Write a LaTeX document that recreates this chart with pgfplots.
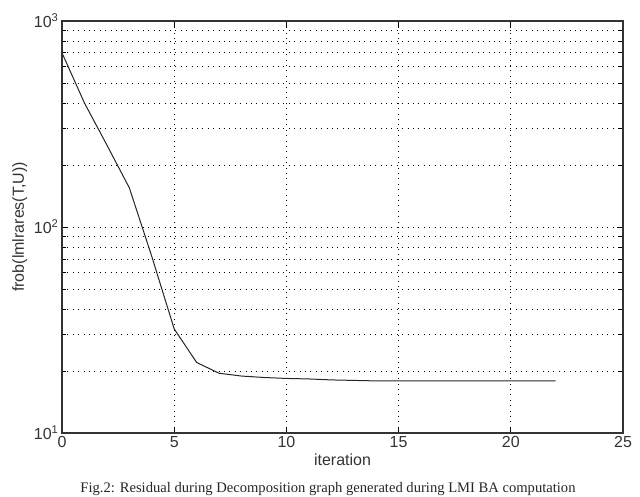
\documentclass[border=0pt]{standalone}
\usepackage{pgfplots}
\pgfplotsset{compat=1.18}
\usepackage{fontspec}
\setmainfont{Liberation Sans}
\newfontfamily\capfont{Liberation Serif}
\begin{document}
\begin{tikzpicture}[x=1pt,y=1pt]
\useasboundingbox (0,0) rectangle (640,497);
\begin{axis}[
  at={(62pt,64pt)}, anchor=south west,
  width=561pt, height=412pt, scale only axis,
  ymode=log, xmin=0, xmax=25, ymin=10, ymax=1000,
  xtick={0,5,10,15,20,25},
  ytick={10,100,1000},
  yticklabels={10\textsuperscript{1},10\textsuperscript{2},10\textsuperscript{3}},
  /pgf/number format/assume math mode=true,
  tick label style={font=\fontsize{16}{19}\selectfont, text=black!80},
  label style={font=\fontsize{16}{19}\selectfont, text=black!80},
  xlabel={iteration},
  ylabel={frob(lmlrares(T,U))},
  xlabel style={yshift=1pt},
  grid=both,
  major grid style={black, line width=0.8pt, dash pattern=on 0.8pt off 4.6pt},
  minor grid style={black, line width=0.8pt, dash pattern=on 0.8pt off 4.6pt},
  major tick length=6pt, minor tick length=4pt,
  tick align=inside,
  tick style={black, line width=0.8pt},
  axis line style={black!80, line width=1.1pt},
  clip=false,
]
\addplot[black!85, line width=1pt] coordinates {
 (0,700) (1,400) (2,250) (3,155) (4,72) (5,32) (6,22) (7,19.5) (8,18.9)
 (9,18.6) (10,18.4) (11,18.3) (12,18.1) (13,18.0) (14,17.9) (15,17.9)
 (16,17.9) (17,17.9) (18,17.9) (19,17.9) (20,17.9) (21,17.9) (22,17.9)
};
\end{axis}
\node[anchor=base, inner sep=0pt, font=\capfont\fontsize{14.6}{17}\selectfont, text=black!85] at (328,4) {Fig.2: Residual during Decomposition graph generated during LMI BA computation};
\end{tikzpicture}
\end{document}
